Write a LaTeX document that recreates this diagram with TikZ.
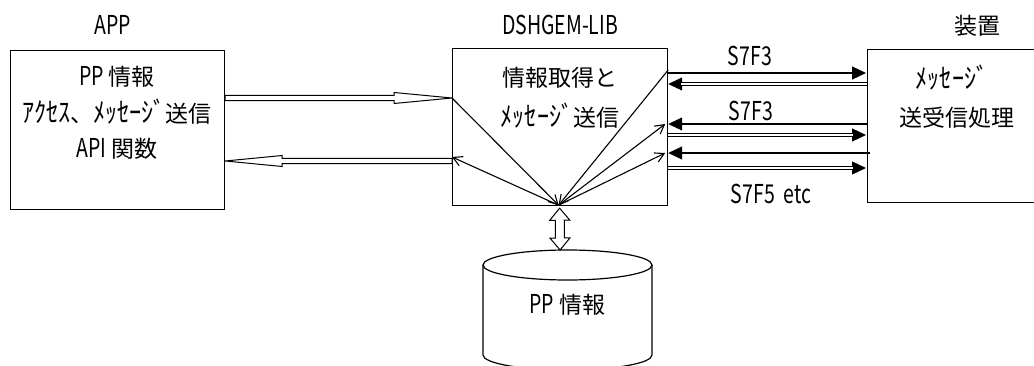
\documentclass[tikz,border=0pt]{standalone}
\usepackage{fontspec}
\setmainfont{Noto Sans CJK JP}
\newfontfamily\latfont[FakeStretch=0.75]{Noto Sans CJK JP}
\usetikzlibrary{arrows.meta,calc}
\newcommand\ltn[1]{{\latfont\fontsize{26}{28}\selectfont #1}}
\newcommand\hkn[1]{\scalebox{1.05}[1.2]{#1}}
% hollow single arrow: A, B, head length, shaft half width, head half width
\newcommand\myhollow[5]{%
  \coordinate (hb) at ($(#2)!#3!(#1)$);
  \draw[hollowline] ($(#1)!#4!90:(#2)$) -- ($(hb)!#4!90:(#2)$) -- ($(hb)!#5!90:(#2)$) -- (#2)
    -- ($(hb)!#5!-90:(#2)$) -- ($(hb)!#4!-90:(#2)$) -- ($(#1)!#4!-90:(#2)$) -- cycle;}
% hollow double-headed arrow
\newcommand\mydouble[5]{%
  \coordinate (ha) at ($(#1)!#3!(#2)$);
  \coordinate (hb) at ($(#2)!#3!(#1)$);
  \draw[hollowline] (#1) -- ($(ha)!#5!90:(#2)$) -- ($(ha)!#4!90:(#2)$) -- ($(hb)!#4!90:(#2)$)
    -- ($(hb)!#5!90:(#2)$) -- (#2) -- ($(hb)!#5!-90:(#2)$) -- ($(hb)!#4!-90:(#2)$)
    -- ($(ha)!#4!-90:(#2)$) -- ($(ha)!#5!-90:(#2)$) -- cycle;}
\begin{document}
\begin{tikzpicture}[x=1pt,y=-1pt,
  box/.style={draw, line width=1.2pt, inner sep=0pt, anchor=north west},
  txt/.style={inner sep=0pt, font=\fontsize{23}{28}\selectfont},
  hollowline/.style={draw, line width=1pt, fill=white},
  inarrow/.style={line width=1.1pt, -{Straight Barb[length=9pt,width=10pt]}},
  single/.style={line width=1.2pt, -{Triangle[length=14pt,width=13pt]}},
  dblline/.style={draw=black, double=white, double distance=1.4pt, line width=1pt, shorten >=13pt}]
\useasboundingbox (0,0) rectangle (1034,366);
\clip (0,0) rectangle (1034,366);

% boxes
\node[box, minimum width=214pt, minimum height=159pt] (app) at (10,50) {};
\node[box, minimum width=215pt, minimum height=157pt] (dsh) at (452,48) {};
\node[box, minimum width=200pt, minimum height=153pt] (dev) at (867,49) {};

% labels
\node[txt] (applbl) at (113,25) {\ltn{APP}};
\node[txt] (dshlbl) at (560,25) {\ltn{DSHGEM-LIB}};
\node[txt] (devlbl) at (977,26) {装置};

\node[txt] (a1) at (117,77) {\ltn{PP} 情報};
\node[txt] (a2) at (117,112) {\hkn{ｱｸｾｽ}、\hkn{ﾒｯｾｰｼﾞ}送信};
\node[txt] (a3) at (117,149) {\ltn{API} 関数};

\node[txt] (d1) at (560,78) {情報取得と};
\node[txt] (d2) at (560,116) {\hkn{ﾒｯｾｰｼﾞ}送信};

\node[txt] (e1) at (952,78) {\hkn{ﾒｯｾｰｼﾞ}};
\node[txt] (e2) at (957,118) {送受信処理};

\node[txt] (s1) at (750,56) {\ltn{S7F3}};
\node[txt] (s2) at (751,111) {\ltn{S7F3}};
\node[txt] (s3) at (771,194) {\ltn{S7F5\ \ etc}};

% database cylinder
\coordinate (dbc) at (567.5,265);
\coordinate (dbtop) at (567.5,250);
\draw[line width=1.2pt] (483,265) -- (483,355) arc[start angle=180, end angle=0, x radius=84.5, y radius=15] -- (652,265);
\draw[line width=1.2pt] (dbc) ellipse [x radius=84.5, y radius=15];
\node[txt] (db) at (567.5,305) {\ltn{PP} 情報};

% hollow arrows APP <-> DSHGEM
\coordinate (ap1) at ($(app.north east)+(0,48)$);
\coordinate (ds1) at ($(dsh.north west)+(0,50)$);
\coordinate (ap2) at ($(app.north east)+(0,111)$);
\coordinate (ds2) at ($(dsh.north west)+(0,113)$);
\myhollow{ap1}{ds1}{58pt}{2.6pt}{5.5pt}
\myhollow{ds2}{ap2}{57pt}{2.6pt}{5.5pt}

% vertical hollow double arrow DSHGEM <-> DB
\coordinate (va) at ($(dsh.south)+(-0.5,2)$);
\coordinate (vb) at (dsh.south |- dbtop);
\mydouble{va}{vb}{12pt}{4.5pt}{10pt}

% inner lines of DSHGEM
\coordinate (cv) at ($(dsh.south)+(-1.5,-1)$);
\coordinate (il1) at ($(dsh.north west)+(0,50)$);
\coordinate (il2) at ($(dsh.north west)+(0,109)$);
\coordinate (ir1) at ($(dsh.north east)+(0,22)$);
\coordinate (ir2) at ($(dsh.north east)+(-3,76)$);
\coordinate (ir3) at ($(dsh.north east)+(-3,105)$);
\draw[inarrow] (il1) -- (cv);
\draw[inarrow] (ir1) -- (cv);
\draw[inarrow] (cv) -- (il2);
\draw[inarrow] (cv) -- (ir2);
\draw[inarrow] (cv) -- (ir3);

% message lines DSHGEM <-> device
\coordinate (L1) at ($(dsh.north east)+(0,25)$);
\coordinate (R1) at ($(dev.north west)+(-1,24)$);
\coordinate (L2) at ($(dsh.north east)+(0,36)$);
\coordinate (R2) at ($(dev.north west)+(0,35)$);
\coordinate (L3) at ($(dsh.north east)+(0,76)$);
\coordinate (R3) at ($(dev.north west)+(0,75)$);
\coordinate (L4) at ($(dsh.north east)+(0,87)$);
\coordinate (R4) at ($(dev.north west)+(-1,86)$);
\coordinate (L5) at ($(dsh.north east)+(0,105)$);
\coordinate (R5) at ($(dev.north west)+(3,104)$);
\coordinate (L6) at ($(dsh.north east)+(0,120)$);
\coordinate (R6) at ($(dev.north west)+(-1,119)$);

\draw[single] (L1) -- (R1);
\draw[single] (R2) -- (L2);
\draw[dblline] (R2) -- (L2);
\draw[single] (R3) -- (L3);
\draw[single] (L4) -- (R4);
\draw[dblline] (L4) -- (R4);
\draw[single] (R5) -- (L5);
\draw[single] (L6) -- (R6);
\draw[dblline] (L6) -- (R6);
\end{tikzpicture}
\end{document}
